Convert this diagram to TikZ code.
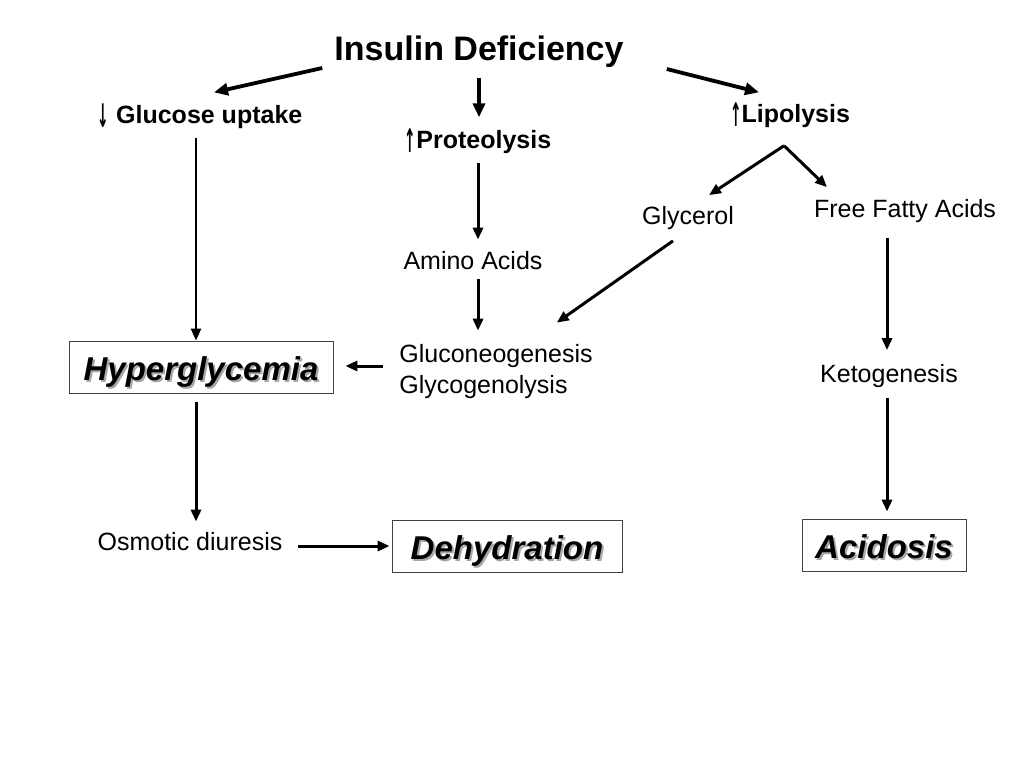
\documentclass[tikz,border=0pt]{standalone}
\usepackage{fontspec}
\setmainfont{Liberation Sans}
\newfontfamily\arrowfont{DejaVu Sans}
\usetikzlibrary{arrows.meta,positioning}

% bold italic words with a soft grey shadow
\newcommand\shadowed[1]{\makebox[0pt][l]{\smash{\hspace{2pt}\raisebox{-2pt}{\color{black!35}#1}}}#1}
% tall arrows before the headings
\newcommand\uparr{{\arrowfont\bfseries\raisebox{-4pt}{\scalebox{0.55}[1.3]{↑}}}}
\newcommand\downarr{{\arrowfont\bfseries\raisebox{-4pt}{\scalebox{0.55}[1.3]{↓}}}}

\tikzset{
  lbl/.style={font=\fontsize{25}{31}\selectfont, inner sep=3pt},
  hdr/.style={font=\fontsize{25}{31}\selectfont\bfseries, inner sep=3pt},
  outcome/.style={draw=black!75, line width=0.8pt, inner sep=0pt, minimum height=52pt,
    text height=30pt, text depth=4pt, font=\fontsize{33}{40}\selectfont\bfseries\itshape},
  arr/.style={line width=3pt, -{Triangle[length=12pt,width=10pt]}},
  bigarr/.style={line width=3.8pt, -{Triangle[length=14pt,width=12pt]}},
}

\begin{document}
\begin{tikzpicture}[x=1pt,y=-1pt]
\useasboundingbox[fill=white] (0,0) rectangle (1024,768);

% nodes
\node[font=\fontsize{34}{40}\selectfont\bfseries, inner sep=3pt] (insulin) at (479,52) {Insulin Deficiency};
\node[hdr] (glucose) at (200,116) {\downarr\ Glucose uptake};
\node[hdr] (proteolysis) at (478,141) {\uparr Proteolysis};
\node[hdr] (lipolysis) at (790,115) {\uparr Lipolysis};
\node[lbl] (glycerol) at (688,218) {Glycerol};
\node[lbl] (ffa) at (905,211) {Free Fatty Acids};
\node[lbl] (amino) at (473,261) {Amino Acids};
\node[lbl, align=left] (gluco) at (496,372) {Gluconeogenesis\\Glycogenolysis};
\node[lbl] (keto) at (889,376) {Ketogenesis};
\node[lbl] (osmotic) at (190,542) {Osmotic diuresis};
\node[outcome, minimum width=264pt] (hyper) at (201,367) {\shadowed{Hyperglycemia}};
\node[outcome, minimum width=230pt] (dehyd) at (507,546) {\shadowed{Dehydration}};
\node[outcome, minimum width=164pt] (acid) at (884,545) {\shadowed{Acidosis}};

% arrows from the top
\draw[bigarr] ([shift={(-9,16)}]insulin.west) -- ([shift={(14,-8)}]glucose.north);
\draw[bigarr, shorten <=7pt, shorten >=8pt] (insulin.south) -- (insulin.south |- proteolysis.north);
\draw[bigarr] ([shift={(40,17)}]insulin.east) -- ([shift={(-31,-7)}]lipolysis.north);

% left column
\draw[arr, line width=2.2pt, shorten <=6pt] ([xshift=-4pt]glucose.south) -- ([xshift=-4pt]glucose.south |- hyper.north);
\draw[arr, shorten <=9pt, shorten >=8pt] ([xshift=-5pt]hyper.south) -- ([xshift=-5pt]hyper.south |- osmotic.north);
\draw[arr, shorten <=12pt, shorten >=2pt] (osmotic.east |- dehyd.west) -- (dehyd.west);

% middle column
\draw[arr, shorten <=6pt, shorten >=9pt] (proteolysis.south) -- (proteolysis.south |- amino.north);
\draw[arr, shorten <=6pt, shorten >=11pt] ([xshift=5pt]amino.south) -- ([xshift=5pt]amino.south |- gluco.north);
\draw[arr, shorten <=13pt, shorten >=12pt] ([yshift=6pt]gluco.west) -- ([yshift=6pt]gluco.west -| hyper.east);

% right column
\draw[arr] ([shift={(-6,15)}]lipolysis.south) -- ([shift={(21,-8)}]glycerol.north);
\draw[arr] ([shift={(-6,15)}]lipolysis.south) -- ([shift={(-78,-9)}]ffa.north);
\draw[arr] ([shift={(-15,8)}]glycerol.south) -- ([shift={(-39,-19)}]gluco.north east);
\draw[arr, shorten <=12pt, shorten >=11pt] ([xshift=-2pt]keto.north |- ffa.south) -- ([xshift=-2pt]keto.north);
\draw[arr, shorten <=7pt, shorten >=7pt] ([xshift=-2pt]keto.south) -- ([xshift=-2pt]keto.south |- acid.north);
\end{tikzpicture}
\end{document}
